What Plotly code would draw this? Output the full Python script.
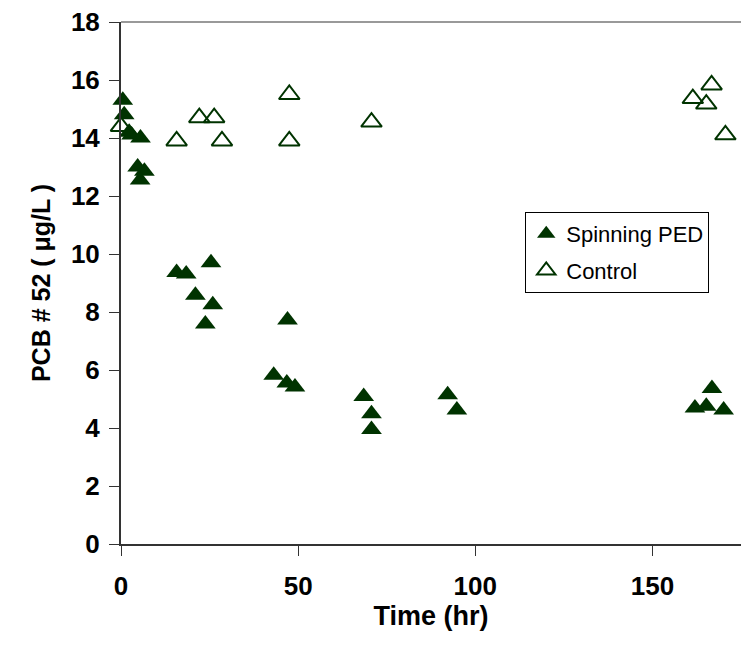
import plotly.graph_objects as go

# Spinning PED (filled triangles)
ped_time = [0.5, 0.9, 2.3, 3.0, 5.5, 4.7, 6.6, 5.4,
            15.7, 18.4, 25.4, 21.0, 25.9, 23.8, 47.0,
            43.1, 46.8, 49.1, 68.5, 70.7, 70.7, 92.2, 94.8,
            166.8, 162.0, 165.2, 170.1]
ped_conc = [15.3, 14.8, 14.2, 14.1, 14.0, 13.0, 12.85, 12.55,
            9.36, 9.31, 9.7, 8.58, 8.25, 7.59, 7.72,
            5.82, 5.55, 5.41, 5.09, 4.49, 3.95, 5.15, 4.62,
            5.36, 4.69, 4.75, 4.62]

# Control (open triangles)
ctl_time = [0.0, 15.7, 22.1, 26.3, 28.5, 47.5, 47.5, 70.7,
            161.4, 165.2, 166.7, 170.6]
ctl_conc = [14.4, 13.9, 14.7, 14.7, 13.9, 15.5, 13.9, 14.55,
            15.36, 15.17, 15.83, 14.11]

x_ticks = [0, 50, 100, 150]
y_ticks = [0, 2, 4, 6, 8, 10, 12, 14, 16, 18]

GREEN = "#003300"
FONT = "Liberation Sans, Arial, sans-serif"

fig = go.Figure()
fig.add_trace(go.Scatter(
    x=ped_time, y=ped_conc, mode="markers", name="Spinning PED",
    legendgroup="a",
    marker=dict(symbol="triangle-up", size=18, color=GREEN,
                line=dict(width=0)),
    cliponaxis=False,
))
fig.add_trace(go.Scatter(
    x=ctl_time, y=ctl_conc, mode="markers", name="Control",
    legendgroup="b",
    marker=dict(symbol="triangle-up-open", size=18, color=GREEN,
                line=dict(width=2, color=GREEN)),
    cliponaxis=False,
))

fig.update_layout(
    width=746, height=659,
    margin=dict(l=121, r=5, t=22, b=115),
    paper_bgcolor="white", plot_bgcolor="white",
    showlegend=True,
    legend=dict(
        x=0.652, y=0.636, xanchor="left", yanchor="top",
        bordercolor="black", borderwidth=1, bgcolor="white",
        font=dict(family=FONT, size=22, color="black"),
        tracegroupgap=5, itemwidth=30,
    ),
    font=dict(family=FONT, color="black"),
    shapes=[dict(type="line", xref="paper", yref="paper",
                 x0=0, x1=1, y0=1, y1=1,
                 line=dict(color="#999999", width=2))],
)

fig.update_xaxes(
    range=[0, 175], tickvals=x_ticks, ticktext=[str(v) for v in x_ticks],
    showgrid=False, zeroline=False,
    showline=True, linecolor="#333333", linewidth=2,
    ticks="outside", ticklen=10, tickcolor="#333333", tickwidth=1,
    tickfont=dict(family=FONT, size=26, color="black", weight="bold"),
    ticklabelstandoff=8,
    title=dict(text="<b>Time (hr)</b>", font=dict(family=FONT, size=27, color="black"),
               standoff=6),
)
fig.update_yaxes(
    range=[0, 18], tickvals=y_ticks, ticktext=[str(v) for v in y_ticks],
    showgrid=False, zeroline=False,
    showline=True, linecolor="#333333", linewidth=2,
    ticks="outside", ticklen=10, tickcolor="#333333", tickwidth=1,
    tickfont=dict(family=FONT, size=26, color="black", weight="bold"),
    ticklabelstandoff=4,
    title=dict(text="<b>PCB # 52 ( μg/L )</b>", font=dict(family=FONT, size=25, color="black"),
               standoff=13),
)

fig.write_html("out.html")
